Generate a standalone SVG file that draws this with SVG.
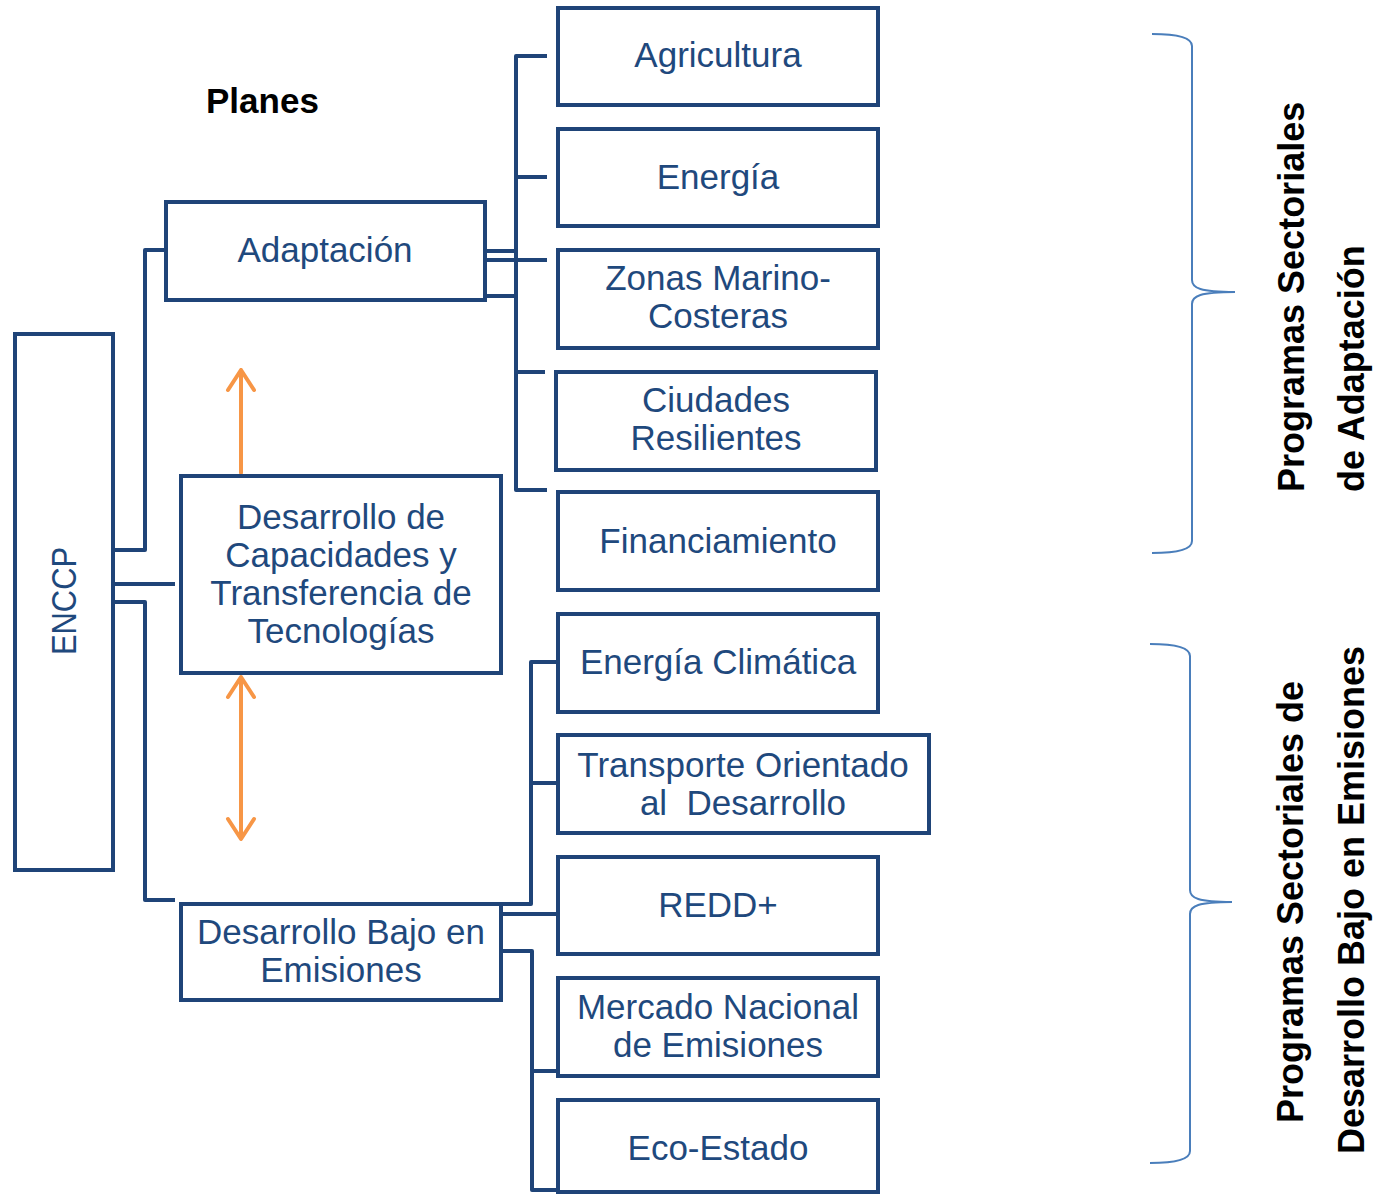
<svg xmlns="http://www.w3.org/2000/svg" width="1381" height="1195" viewBox="0 0 1381 1195">
<style>
.box{fill:#fff;stroke:#1F4478;stroke-width:4}
.lbl{font-family:"Liberation Sans",Arial,sans-serif;font-size:35px;fill:#1F497D;text-anchor:middle}
.con{fill:none;stroke:#1F4478;stroke-width:4;stroke-linejoin:round}
.arr{fill:none;stroke:#F79646;stroke-width:4;stroke-linecap:round;stroke-linejoin:round}
.brace{fill:none;stroke:#4A7EBB;stroke-width:2}
.title{font-family:"Liberation Sans",Arial,sans-serif;font-weight:bold;font-size:36px;fill:#000}
</style>
<rect width="1381" height="1195" fill="#fff"/>
<g id="connectors">
<path class="con" d="M113,550 H145 V250 H166"/>
<path class="con" d="M113,584 H175"/>
<path class="con" d="M113,602 H145 V900 H175"/>
<path class="con" d="M485,251 H516"/>
<path class="con" d="M485,260 H547"/>
<path class="con" d="M485,296 H516"/>
<path class="con" d="M547,56 H516 V490 H547"/>
<path class="con" d="M516,177 H547"/>
<path class="con" d="M516,372 H545"/>
<path class="con" d="M501,904 H531 V662 H558"/>
<path class="con" d="M531,783 H558"/>
<path class="con" d="M501,914 H558"/>
<path class="con" d="M501,951 H532 V1190 H558"/>
<path class="con" d="M532,1071 H558"/>
<path class="arr" d="M241,473 V370 M228,390 L241,370 L254,390"/>
<path class="arr" d="M241,678 V837 M228,697 L241,677 L254,697 M228,819 L241,839 L254,819"/>
</g>
<text x="206" y="113" font-family="'Liberation Sans',Arial,sans-serif" font-weight="bold" font-size="35" fill="#000">Planes</text>
<g id="encpp">
<rect class="box" x="15" y="334" width="98" height="536"/>
<text class="lbl" font-size="34" transform="translate(76,601) rotate(-90)" textLength="108" lengthAdjust="spacingAndGlyphs">ENCCP</text>
</g>
<g id="adaptacion">
<rect class="box" x="166" y="202" width="319" height="98"/>
<text class="lbl" x="325" y="262">Adaptación</text>
</g>
<g id="capacidades">
<rect class="box" x="181" y="476" width="320" height="197"/>
<text class="lbl" x="341" y="529">Desarrollo de</text>
<text class="lbl" x="341" y="567">Capacidades y</text>
<text class="lbl" x="341" y="605">Transferencia de</text>
<text class="lbl" x="341" y="643">Tecnologías</text>
</g>
<g id="bajo">
<rect class="box" x="181" y="904" width="320" height="96"/>
<text class="lbl" x="341" y="944">Desarrollo Bajo en</text>
<text class="lbl" x="341" y="982">Emisiones</text>
</g>
<g id="agricultura">
<rect class="box" x="558" y="8" width="320" height="97"/>
<text class="lbl" x="718" y="67">Agricultura</text>
</g>
<g id="energia">
<rect class="box" x="558" y="129" width="320" height="97"/>
<text class="lbl" x="718" y="189">Energía</text>
</g>
<g id="zonas">
<rect class="box" x="558" y="250" width="320" height="98"/>
<text class="lbl" x="718" y="290">Zonas Marino-</text>
<text class="lbl" x="718" y="328">Costeras</text>
</g>
<g id="ciudades">
<rect class="box" x="556" y="372" width="320" height="98"/>
<text class="lbl" x="716" y="412">Ciudades</text>
<text class="lbl" x="716" y="450">Resilientes</text>
</g>
<g id="financiamiento">
<rect class="box" x="558" y="492" width="320" height="98"/>
<text class="lbl" x="718" y="553">Financiamiento</text>
</g>
<g id="energia-climatica">
<rect class="box" x="558" y="614" width="320" height="98"/>
<text class="lbl" x="718" y="674">Energía Climática</text>
</g>
<g id="transporte">
<rect class="box" x="558" y="735" width="371" height="98"/>
<text class="lbl" x="743" y="777">Transporte Orientado</text>
<text class="lbl" x="743" y="815" xml:space="preserve">al  Desarrollo</text>
</g>
<g id="redd">
<rect class="box" x="558" y="857" width="320" height="97"/>
<text class="lbl" x="718" y="917">REDD+</text>
</g>
<g id="mercado">
<rect class="box" x="558" y="978" width="320" height="98"/>
<text class="lbl" x="718" y="1019">Mercado Nacional</text>
<text class="lbl" x="718" y="1057">de Emisiones</text>
</g>
<g id="eco-estado">
<rect class="box" x="558" y="1100" width="320" height="92"/>
<text class="lbl" x="718" y="1160">Eco-Estado</text>
</g>
<g id="brace-adaptacion">
<path class="brace" d="M1152,34 C1180,34 1192,38 1192,46 V280 C1192,288 1200,292 1235,292 C1200,292 1192,296 1192,304 V541 C1192,549 1180,553 1152,553"/>
<text class="title" transform="translate(1304,492) rotate(-90)">Programas Sectoriales</text>
<text class="title" transform="translate(1364,492) rotate(-90)">de Adaptación</text>
</g>
<g id="brace-emisiones">
<path class="brace" d="M1150,644 C1178,644 1190,648 1190,656 V890 C1190,898 1198,902 1232,902 C1198,902 1190,906 1190,914 V1151 C1190,1159 1178,1163 1150,1163"/>
<text class="title" text-anchor="middle" transform="translate(1303,902) rotate(-90)">Programas Sectoriales de</text>
<text class="title" text-anchor="middle" transform="translate(1364,900) rotate(-90)">Desarrollo Bajo en Emisiones</text>
</g>
</svg>
